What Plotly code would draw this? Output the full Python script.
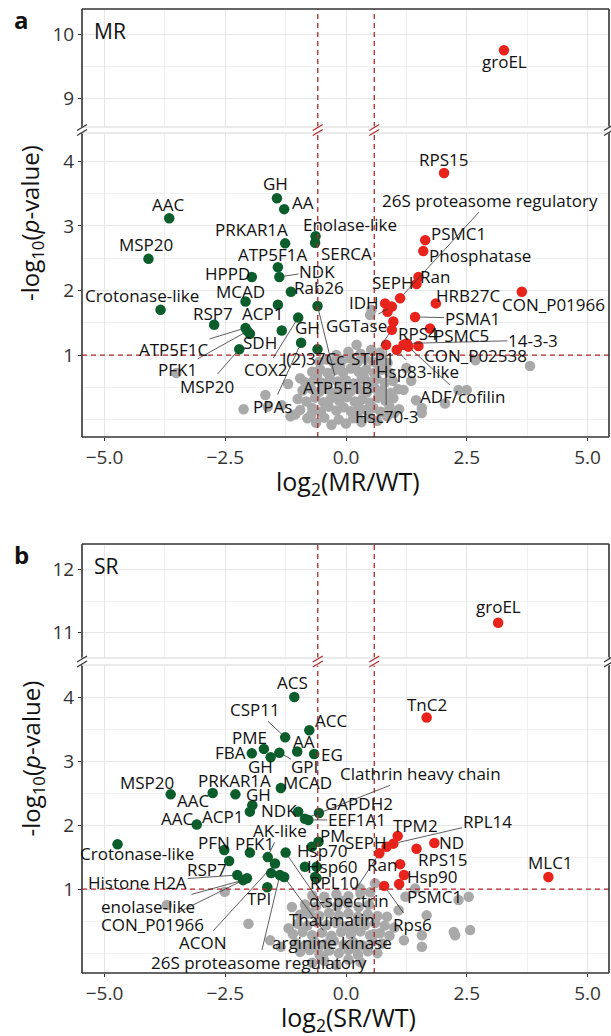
import plotly.graph_objects as go

# ======================= DATA =======================
# ---- Panel a : MR vs WT ----
mr_green_labels = ["GH", "AA", "AAC", "MSP20", "PRKAR1A", "Enolase-like", "SERCA", "ATP5F1A",
                   "NDK", "HPPD", "Rab26", "MCAD", "Crotonase-like", "ACP1", "ATP5F1B", "RSP7",
                   "COX2", "GH", "ATP5F1C", "SDH", "PFK1", "MSP20", "PPAs", "l(2)37Cc"]
mr_green_x = [-1.43, -1.28, -3.66, -4.09, -1.26, -0.63, -0.64, -1.41, -1.38, -1.95, -1.14, -2.08,
              -3.84, -1.41, -0.59, -2.73, -0.99, -1.33, -2.08, -1.99, -2.04, -2.21, -0.93, -0.59]
mr_green_y = [3.43, 3.26, 3.12, 2.49, 2.73, 2.84, 2.74, 2.36, 2.21, 2.21, 1.98, 1.83,
              1.70, 1.78, 1.76, 1.47, 1.58, 1.38, 1.42, 1.33, 1.37, 1.09, 1.19, 1.09]

mr_red_labels = ["groEL", "RPS15", "PSMC1", "Phosphatase", "26S proteasome regulatory", "Ran", "SEPH",
                 "IDH", "HRB27C", "CON_P01966", "PSMA1", "GGTase", "RPS4", "PSMC5", "14-3-3",
                 "CON_P02538", "STIP1", "Hsp83-like", "ADF/cofilin", "Hsc70-3", "", ""]
mr_red_x = [3.27, 2.03, 1.64, 1.60, 1.12, 1.50, 1.46, 0.81, 1.86, 3.64, 1.43, 0.95, 0.98, 1.74, 1.26,
            1.50, 0.95, 1.05, 1.29, 0.83, 0.86, 1.19]
mr_red_y = [9.75, 3.82, 2.78, 2.61, 1.88, 2.21, 2.10, 1.80, 1.80, 1.98, 1.59, 1.75, 1.52, 1.41, 1.18,
            1.14, 1.39, 1.08, 1.13, 1.16, 1.67, 1.16]

mr_gray_x = [-0.80, -0.62, -0.45, -0.30, -0.15, 0.00, 0.15, 0.32, 0.48, 0.65, 0.85, -1.05, 1.00,
             -0.95, -0.70, -0.52, -0.36, -0.20, -0.05, 0.10, 0.26, 0.41, 0.57, 0.72, 0.90, 1.10,
             -1.00, -0.82, -0.64, -0.47, -0.31, -0.14, 0.02, 0.18, 0.34, 0.50, 0.66, 0.82, 0.98,
             -0.90, -0.72, -0.55, -0.38, -0.22, -0.06, 0.10, 0.27, 0.43, 0.60, 0.75, 0.92, 1.08,
             -0.85, -0.66, -0.50, -0.33, -0.17, 0.00, 0.16, 0.32, 0.48, 0.64, 0.80, 0.97,
             -0.70, -0.54, -0.38, -0.22, -0.06, 0.10, 0.26, 0.42, 0.58, 0.74, 0.90,
             -0.55, -0.40, -0.25, -0.08, 0.08, 0.24, 0.40, 0.56, 0.72, 0.86,
             -0.20, 0.05, 0.30, 0.52, 0.70,
             -0.72, -0.38, -0.05, 0.24, 0.56, 0.82, -0.60, -0.12, 0.37, 0.66,
             -3.51, -2.12, -1.67, -1.33, -1.62, -1.20, -1.15, -0.95, 3.81, 2.68, 2.50, 2.33,
             1.57, 1.57, 1.19, 1.35, 1.25, 0.22, 0.53, 0.50, 1.45, 2.05]
mr_gray_y = [0.02, -0.05, 0.03, -0.08, 0.00, -0.06, 0.02, -0.04, 0.04, -0.02, 0.05, 0.08, 0.10,
             0.15, 0.18, 0.12, 0.20, 0.14, 0.19, 0.13, 0.21, 0.15, 0.18, 0.12, 0.20, 0.16,
             0.32, 0.28, 0.34, 0.27, 0.33, 0.29, 0.35, 0.28, 0.32, 0.26, 0.34, 0.29, 0.33,
             0.45, 0.48, 0.43, 0.47, 0.42, 0.49, 0.44, 0.47, 0.42, 0.48, 0.45, 0.41, 0.47,
             0.58, 0.62, 0.57, 0.63, 0.59, 0.61, 0.56, 0.62, 0.58, 0.63, 0.57, 0.60,
             0.74, 0.78, 0.72, 0.77, 0.73, 0.79, 0.74, 0.78, 0.72, 0.77, 0.73,
             0.90, 0.93, 0.88, 0.92, 0.95, 0.89, 0.94, 0.90, 0.96, 0.88,
             1.00, 1.05, 1.02, 1.08, 1.04,
             0.08, 0.23, 0.38, 0.07, 0.52, 0.39, 0.68, 0.83, 0.66, 0.85,
             0.72, 0.16, 0.38, 0.22, 0.20, 0.55, 0.05, 0.64, 0.83, 0.92, 0.46, 0.46,
             0.18, 0.10, 0.46, 0.60, 0.80, 1.16, 1.70, 1.62, 0.30, 0.25]

# ---- Panel b : SR vs WT ----
sr_green_labels = ["ACS", "CSP11", "ACC", "PME", "AA", "EG", "FBA", "GH", "GPI", "MCAD", "PRKAR1A",
                   "AAC", "MSP20", "GH", "ACP1", "NDK", "Clathrin heavy chain", "GAPDH2", "EEF1A1",
                   "AAC", "PM", "Hsp70", "Crotonase-like", "PFN", "PFK1", "AK-like", "Hsp60", "RPL10",
                   "RSP7", "Histone H2A", "enolase-like", "CON_P01966", "TPI", "ACON",
                   "26S proteasome regulatory", "Thaumatin", "arginine kinase", "", "", ""]
sr_green_x = [-1.07, -1.26, -0.76, -1.70, -1.01, -0.66, -1.95, -1.56, -1.38, -1.35, -2.29,
              -2.76, -3.63, -1.94, -1.99, -0.99, -0.85, -0.56, -0.78,
              -3.09, -0.57, -0.71, -4.73, -2.52, -1.99, -1.62, -0.85, -0.64,
              -2.42, -2.25, -2.13, -2.05, -1.63, -1.47,
              -1.37, -1.25, -1.28, -1.55, -0.61, -0.61]
sr_green_y = [4.00, 3.37, 3.48, 3.19, 3.15, 3.11, 3.12, 3.06, 3.13, 2.58, 2.48,
              2.50, 2.48, 2.31, 2.21, 2.21, 2.10, 2.19, 2.08,
              2.01, 1.74, 1.66, 1.70, 1.61, 1.57, 1.50, 1.35, 1.19,
              1.44, 1.22, 1.14, 1.17, 1.03, 1.40,
              1.22, 1.57, 1.19, 1.25, 1.35, 1.17]

sr_red_labels = ["groEL", "TnC2", "TPM2", "RPL14", "SEPH", "\u03b1-spectrin", "Ran", "ND", "RPS15",
                 "Hsp90", "PSMC1", "Rps6", "MLC1"]
sr_red_x = [3.15, 1.67, 1.07, 0.98, 0.84, 0.69, 1.12, 1.83, 1.46, 1.20, 1.10, 0.79, 4.19]
sr_red_y = [11.16, 3.68, 1.83, 1.71, 1.66, 1.56, 1.39, 1.72, 1.63, 1.22, 1.08, 1.05, 1.19]

sr_gray_x = [-0.70, -0.45, -0.20, 0.05, 0.30,
             -0.95, -0.75, -0.55, -0.35, -0.15, 0.05, 0.25, 0.45, 0.65,
             -1.05, -0.85, -0.65, -0.45, -0.25, -0.05, 0.15, 0.35, 0.55, 0.75,
             -1.10, -0.90, -0.70, -0.50, -0.30, -0.10, 0.10, 0.30, 0.50, 0.70, 0.90,
             -1.00, -0.80, -0.60, -0.40, -0.20, 0.00, 0.20, 0.40, 0.60, 0.80,
             -0.95, -0.75, -0.55, -0.35, -0.15, 0.05, 0.25, 0.45, 0.65,
             -0.85, -0.62, -0.40, -0.18, 0.04, 0.26, 0.48,
             -0.70, -0.45, -0.20, 0.05, 0.30, 0.50,
             -0.58, -0.32, 0.15, 0.38, -0.83, -0.10, 0.58, -0.48, 0.20,
             -3.71, -2.51, -2.02, -1.57, -1.19, -1.12, -1.35, 2.33, 2.54, 2.57, 2.23, 2.26,
             1.67, 1.57, 1.57, 1.23, 1.43, 1.09, 0.85, 0.60, 0.29, 1.00, 1.20]
sr_gray_y = [-0.15, -0.12, -0.18, -0.10, -0.14,
             0.02, 0.05, -0.02, 0.04, 0.00, 0.05, -0.03, 0.03, 0.00,
             0.16, 0.12, 0.18, 0.14, 0.19, 0.13, 0.17, 0.12, 0.18, 0.15,
             0.30, 0.33, 0.28, 0.32, 0.27, 0.33, 0.29, 0.34, 0.28, 0.31, 0.27,
             0.46, 0.43, 0.48, 0.44, 0.47, 0.42, 0.48, 0.44, 0.47, 0.43,
             0.60, 0.62, 0.58, 0.63, 0.59, 0.62, 0.57, 0.61, 0.58,
             0.76, 0.73, 0.78, 0.74, 0.77, 0.72, 0.76,
             0.90, 0.88, 0.92, 0.89, 0.93, 0.95,
             0.08, 0.22, 0.38, 0.52, 0.67, 0.82, 0.30, -0.05, 0.07,
             0.75, 0.96, 0.46, 0.20, 0.39, 0.72, 0.10, 0.83, 0.88, 0.36, 0.33, 0.28,
             0.59, 0.28, 0.10, 0.88, 1.01, 0.67, 0.57, 1.09, 1.01, 0.40, 0.20]

x_tick_vals = [-5.0, -2.5, 0.0, 2.5, 5.0]
x_tick_text = ["\u22125.0", "\u22122.5", "0.0", "2.5", "5.0"]

# ================= LABEL PLACEMENT (repel-like layout) =================
# (label x, label y, leader line?) in data units
mr_green_lab = [(-1.45, 3.65, 0), (-0.89, 3.37, 0), (-3.69, 3.33, 0), (-4.14, 2.71, 0), (-1.95, 2.94, 0),
                (0.08, 3.02, 0), (0.0, 2.58, 0), (-1.51, 2.55, 0), (-0.60, 2.30, 1), (-2.46, 2.27, 0),
                (-0.56, 2.04, 0), (-2.19, 1.98, 0), (-4.22, 1.93, 0), (-1.72, 1.65, 0), (-0.17, 0.49, 1),
                (-2.75, 1.65, 0), (-1.66, 0.77, 1), (-0.79, 1.42, 0), (-3.56, 1.08, 1), (-1.78, 1.19, 0),
                (-3.48, 0.77, 1), (-2.88, 0.52, 1), (-1.53, 0.20, 1), (-0.68, 0.94, 0)]
mr_red_lab = [(3.29, 9.57, 0), (2.01, 4.03, 0), (2.32, 2.88, 0), (2.77, 2.54, 0), (2.98, 3.40, 1),
              (1.84, 2.21, 0), (0.97, 2.13, 0), (0.37, 1.82, 0), (2.53, 1.93, 0), (4.29, 1.79, 0),
              (2.61, 1.57, 1), (0.21, 1.45, 1), (1.49, 1.34, 0), (2.40, 1.31, 0), (3.87, 1.23, 1),
              (2.69, 1.00, 0), (0.54, 0.95, 1), (1.47, 0.74, 1), (2.42, 0.35, 1), (0.83, 0.04, 1),
              None, None]
sr_green_lab = [(-1.10, 4.22, 0), (-1.88, 3.81, 1), (-0.31, 3.64, 0), (-1.99, 3.37, 0), (-0.87, 3.30, 0),
                (-0.29, 3.11, 0), (-2.40, 3.13, 0), (-1.78, 2.92, 0), (-0.85, 2.91, 1), (-0.79, 2.66, 0),
                (-2.30, 2.70, 0), (-3.17, 2.38, 0), (-4.12, 2.67, 0), (-1.82, 2.47, 0), (-2.55, 2.13, 0),
                (-1.39, 2.23, 0), (1.55, 2.81, 1), (0.27, 2.34, 0), (0.22, 2.08, 1),
                (-3.50, 2.11, 0), (-0.27, 1.84, 0), (-0.50, 1.61, 0), (-4.33, 1.55, 0), (-2.73, 1.73, 0),
                (-1.90, 1.72, 0), (-1.37, 1.92, 1), (-0.29, 1.36, 0), (-0.23, 1.11, 0),
                (-2.87, 1.30, 0), (-4.31, 1.11, 1), (-4.10, 0.73, 1), (-4.00, 0.44, 1), (-1.80, 0.86, 0),
                (-2.98, 0.16, 1), (-1.80, -0.14, 1), (-0.29, 0.52, 1), (-0.29, 0.17, 1),
                None, None, None]
sr_red_lab = [(3.15, 11.41, 0), (1.68, 3.88, 0), (1.43, 2.00, 0), (2.92, 2.05, 1), (0.41, 1.73, 0),
              (0.06, 0.83, 1), (0.75, 1.38, 0), (2.19, 1.73, 0), (1.99, 1.47, 0), (1.78, 1.20, 0),
              (1.84, 0.88, 0), (1.37, 0.44, 1), (4.24, 1.41, 0)]

# ======================= STYLE =======================
W, H = 611, 1036
ML, MRG = 82, 2
PW = W - ML - MRG
FONT = "Open Sans"
GREEN = "#0B5E2B"
RED = "#E8231B"
GRAY = "#A9A9A9"
DASH = "#B0292B"
FRAME = "#333333"
GRID = "#E6E6E6"
GRIDMIN = "#F0F0F0"
XRANGE = [-5.466, 5.445]
FC = 0.585
MSIZE = 10.5


def pxx(x):
    return (x - ML) / PW


def pxy(y):
    return 1 - y / H


panels = [
    dict(letter="a", cond="MR", xu="x", yu="y", xl="x2", yl="y2",
         up=(9, 127), lo=(133, 437), up_range=[8.55, 10.395], lo_range=[-0.27, 4.44],
         up_ticks=[9, 10], up_minor=[9.5], lo_minor=[0, 0.5, 1.5, 2.5, 3.5],
         green=(mr_green_x, mr_green_y, mr_green_labels, mr_green_lab),
         red=(mr_red_x, mr_red_y, mr_red_labels, mr_red_lab),
         gray=(mr_gray_x, mr_gray_y), split=6),
    dict(letter="b", cond="SR", xu="x3", yu="y3", xl="x4", yl="y4",
         up=(544, 658), lo=(665, 973), up_range=[10.6, 12.41], lo_range=[-0.31, 4.50],
         up_ticks=[11, 12], up_minor=[11.5], lo_minor=[0, 0.5, 1.5, 2.5, 3.5],
         green=(sr_green_x, sr_green_y, sr_green_labels, sr_green_lab),
         red=(sr_red_x, sr_red_y, sr_red_labels, sr_red_lab),
         gray=(sr_gray_x, sr_gray_y), split=6),
]

fig = go.Figure()
annotations = []
shapes = []
layout_axes = {}

lab_font = dict(family=FONT, size=17, color="#111111")
tick_font = dict(family=FONT, size=19, color="#333333")

for p in panels:
    # ---- points ----
    gx, gy = p["gray"]
    fig.add_trace(go.Scatter(x=gx, y=gy, xaxis=p["xl"], yaxis=p["yl"], mode="markers",
                             marker=dict(size=MSIZE, color=GRAY), hoverinfo="skip", showlegend=False))
    for key, col in (("green", GREEN), ("red", RED)):
        xs, ys, labs, pos = p[key]
        lo_x = [x for x, y in zip(xs, ys) if y < p["split"]]
        lo_y = [y for y in ys if y < p["split"]]
        up_x = [x for x, y in zip(xs, ys) if y >= p["split"]]
        up_y = [y for y in ys if y >= p["split"]]
        if lo_x:
            fig.add_trace(go.Scatter(x=lo_x, y=lo_y, xaxis=p["xl"], yaxis=p["yl"], mode="markers",
                                     marker=dict(size=MSIZE, color=col), hoverinfo="skip", showlegend=False))
        if up_x:
            fig.add_trace(go.Scatter(x=up_x, y=up_y, xaxis=p["xu"], yaxis=p["yu"], mode="markers",
                                     marker=dict(size=MSIZE, color=col), hoverinfo="skip", showlegend=False))
        # ---- labels ----
        for x, y, lab, ps in zip(xs, ys, labs, pos):
            if ps is None or not lab:
                continue
            lx, ly, lead = ps
            xr = p["xu"] if y >= p["split"] else p["xl"]
            yr = p["yu"] if y >= p["split"] else p["yl"]
            if lead:
                annotations.append(dict(x=x, y=y, xref=xr, yref=yr, ax=lx, ay=ly, axref=xr, ayref=yr,
                                        text=lab, showarrow=True, arrowhead=0, arrowwidth=0.8,
                                        arrowcolor="#333333", standoff=5, startstandoff=0,
                                        font=lab_font, borderpad=0))
            else:
                annotations.append(dict(x=lx, y=ly, xref=xr, yref=yr, text=lab, showarrow=False,
                                        xanchor="center", yanchor="middle", font=lab_font, borderpad=0))

    # ---- axes ----
    up_dom = [pxy(p["up"][1]), pxy(p["up"][0])]
    lo_dom = [pxy(p["lo"][1]), pxy(p["lo"][0])]
    xcommon = dict(range=XRANGE, domain=[0, 1], showgrid=True, gridcolor=GRID, gridwidth=1.2,
                   zeroline=False, showline=False, tickmode="array", tickvals=x_tick_vals,
                   ticktext=x_tick_text,
                   minor=dict(tickmode="array", tickvals=[-3.75, -1.25, 1.25, 3.75], showgrid=True,
                              gridcolor=GRIDMIN, gridwidth=0.8))
    nxu = "xaxis" if p["xu"] == "x" else "xaxis" + p["xu"][1:]
    nxl = "xaxis" + p["xl"][1:]
    nyu = "yaxis" if p["yu"] == "y" else "yaxis" + p["yu"][1:]
    nyl = "yaxis" + p["yl"][1:]
    layout_axes[nxu] = dict(xcommon, anchor=p["yu"], showticklabels=False, ticks="")
    layout_axes[nxl] = dict(xcommon, anchor=p["yl"], showticklabels=True, ticks="outside", ticklen=3,
                            tickcolor=FRAME, tickwidth=1.2, tickfont=tick_font)
    layout_axes[nyu] = dict(domain=up_dom, range=p["up_range"], anchor=p["xu"], tickmode="array",
                            tickvals=p["up_ticks"], ticktext=[str(v) for v in p["up_ticks"]],
                            showgrid=True, gridcolor=GRID, gridwidth=1.2, zeroline=False, showline=False,
                            ticks="outside", ticklen=3, tickcolor=FRAME, tickwidth=1.2, tickfont=tick_font,
                            minor=dict(tickmode="array", tickvals=p["up_minor"], showgrid=True,
                                       gridcolor=GRIDMIN, gridwidth=0.8))
    layout_axes[nyl] = dict(domain=lo_dom, range=p["lo_range"], anchor=p["xl"], tickmode="array",
                            tickvals=[1, 2, 3, 4], ticktext=["1", "2", "3", "4"],
                            showgrid=True, gridcolor=GRID, gridwidth=1.2, zeroline=False, showline=False,
                            ticks="outside", ticklen=3, tickcolor=FRAME, tickwidth=1.2, tickfont=tick_font,
                            minor=dict(tickmode="array", tickvals=p["lo_minor"], showgrid=True,
                                       gridcolor=GRIDMIN, gridwidth=0.8))

    # ---- threshold lines ----
    for xr, yr in ((p["xu"], p["yu"]), (p["xl"], p["yl"])):
        for v in (-FC, FC):
            shapes.append(dict(type="line", xref=xr, yref=yr + " domain", x0=v, x1=v, y0=0, y1=1,
                               line=dict(color=DASH, width=1.3, dash="5px,4px"), layer="above"))
    shapes.append(dict(type="line", xref=p["xl"] + " domain", yref=p["yl"], x0=0, x1=1, y0=1, y1=1,
                       line=dict(color=DASH, width=1.3, dash="5px,4px"), layer="above"))

    # ---- frame (broken axis) ----
    L, R = ML, W - MRG
    t, ub = p["up"]
    lt, b = p["lo"]

    def seg(x0, y0, x1, y1, color=FRAME, w=1.6):
        shapes.append(dict(type="line", xref="paper", yref="paper", x0=pxx(x0), y0=pxy(y0),
                           x1=pxx(x1), y1=pxy(y1), line=dict(color=color, width=w), layer="above"))

    seg(L, t, R, t)
    seg(L, b, R, b)
    seg(L, t, L, ub)
    seg(L, lt, L, b)
    seg(R, t, R, ub)
    seg(R, lt, R, b)
    seg(L, ub, R, ub, color="#E3E3E3", w=1.4)
    seg(L, lt, R, lt, color="#E3E3E3", w=1.4)
    ym = (ub + lt) / 2
    x_neg = ML + (-FC - XRANGE[0]) / (XRANGE[1] - XRANGE[0]) * PW
    x_pos = ML + (FC - XRANGE[0]) / (XRANGE[1] - XRANGE[0]) * PW
    for xb, colb in ((L, FRAME), (x_neg, DASH), (x_pos, DASH), (R, FRAME)):
        for off in (-2.5, 2.5):
            seg(xb - 5, ym + off + 3, xb + 5, ym + off - 3, color=colb, w=1.2)

    # ---- text ----
    top, bot = p["up"][0], p["lo"][1]
    annotations.append(dict(x=pxx(21), y=pxy(top + 10), xref="paper", yref="paper",
                            text="<b>%s</b>" % p["letter"], xanchor="center", yanchor="middle",
                            showarrow=False, font=dict(family=FONT, size=24, color="#111111")))
    annotations.append(dict(x=pxx(92), y=pxy(top + 22), xref="paper", yref="paper", text=p["cond"],
                            xanchor="left", yanchor="middle", showarrow=False,
                            font=dict(family=FONT, size=21, color="#111111")))
    annotations.append(dict(x=pxx(31), y=pxy((top + bot) / 2), xref="paper", yref="paper",
                            text="-log<sub>10</sub>(<i>p</i>-value)", textangle=-90, showarrow=False,
                            xanchor="center", yanchor="middle",
                            font=dict(family=FONT, size=24, color="#111111")))
    annotations.append(dict(x=pxx(348), y=pxy(bot + 45), xref="paper", yref="paper",
                            text="log<sub>2</sub>(%s/WT)" % p["cond"], showarrow=False,
                            xanchor="center", yanchor="middle",
                            font=dict(family=FONT, size=25, color="#111111")))

fig.update_layout(width=W, height=H, margin=dict(l=ML, r=MRG, t=0, b=0),
                  paper_bgcolor="white", plot_bgcolor="white", font=dict(family=FONT),
                  showlegend=False, annotations=annotations, shapes=shapes, **layout_axes)

fig.write_html("out.html", config={"displayModeBar": False},
               post_script="document.body.style.margin='0';document.body.style.padding='0';")
